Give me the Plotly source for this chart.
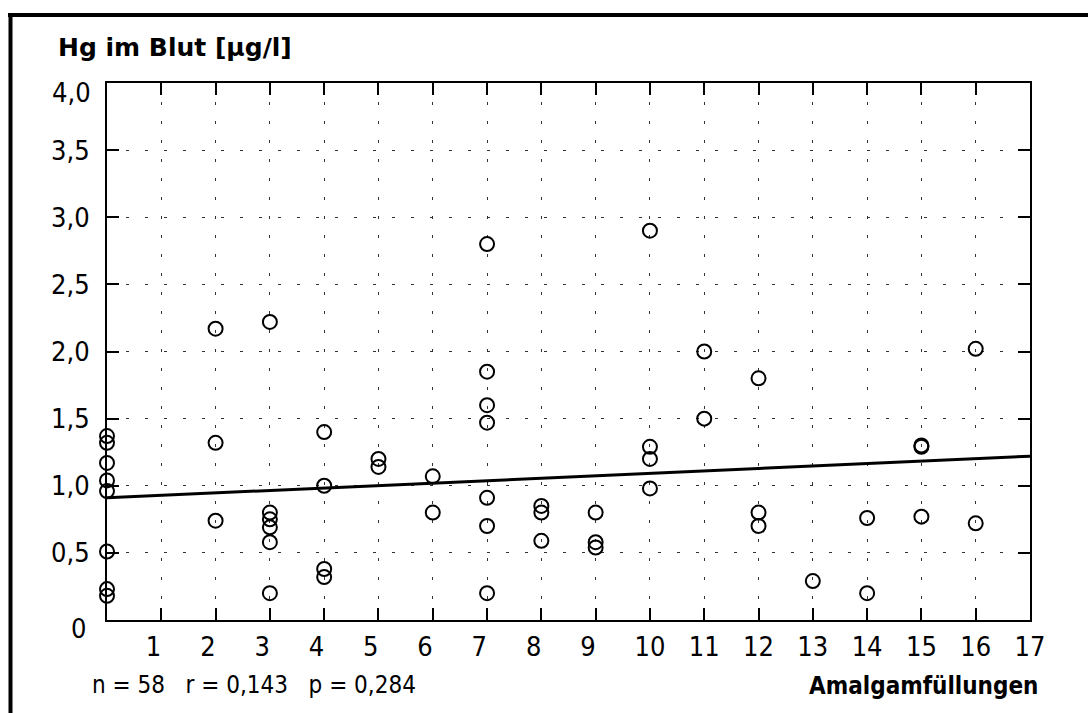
import plotly.graph_objects as go

# Data
amalgam = [0, 0, 0, 0, 0, 0, 0, 0,
           2, 2, 2,
           3, 3, 3, 3, 3, 3,
           4, 4, 4, 4,
           5, 5,
           6, 6,
           7, 7, 7, 7, 7, 7, 7,
           8, 8, 8,
           9, 9, 9,
           10, 10, 10, 10,
           11, 11,
           12, 12, 12,
           13,
           14, 14,
           15, 15, 15,
           16, 16]
hg_blood = [1.37, 1.32, 1.17, 1.04, 0.96, 0.51, 0.23, 0.18,
            2.17, 1.32, 0.74,
            2.22, 0.80, 0.75, 0.69, 0.58, 0.20,
            1.40, 1.00, 0.38, 0.32,
            1.20, 1.14,
            1.07, 0.80,
            2.80, 1.85, 1.60, 1.47, 0.91, 0.70, 0.20,
            0.85, 0.80, 0.59,
            0.80, 0.58, 0.54,
            2.90, 1.29, 1.20, 0.98,
            2.00, 1.50,
            1.80, 0.80, 0.70,
            0.29,
            0.76, 0.20,
            1.30, 1.29, 0.77,
            2.02, 0.72]
trend_x = [0, 17]
trend_y = [0.91, 1.22]

FS = "\u2007"  # figure space: single-digit labels sit slightly left, as in the reference
x_tickvals = list(range(0, 18))
x_ticktext = [""] + [str(i) + (FS if i < 10 else "") for i in range(1, 18)]
y_tickvals = [0, 0.5, 1.0, 1.5, 2.0, 2.5, 3.0, 3.5, 4.0]
y_ticktext = ["", "0,5", "1,0", "1,5", "2,0", "2,5", "3,0", "3,5", ""]

NARROW = "DejaVu Sans Condensed, Liberation Sans, sans-serif"
TICK_SIZE = 27

fig = go.Figure()
fig.add_trace(go.Scatter(x=trend_x, y=trend_y, mode="lines",
                         line=dict(color="black", width=3),
                         hoverinfo="skip", showlegend=False))
fig.add_trace(go.Scatter(x=amalgam, y=hg_blood, mode="markers",
                         marker=dict(symbol="circle-open", size=14,
                                     color="black", line=dict(width=2, color="black")),
                         cliponaxis=False, showlegend=False))

axis_common = dict(showline=True, linecolor="black", linewidth=2, mirror="allticks",
                   ticks="inside", ticklen=12, tickwidth=1.5, tickcolor="black",
                   showgrid=True, gridcolor="#333333", gridwidth=1.2,
                   griddash="3px,16px", zeroline=False,
                   tickfont=dict(family=NARROW, size=TICK_SIZE, color="black"))

fig.update_xaxes(range=[0, 17], tickmode="array", tickvals=x_tickvals, ticktext=x_ticktext,
                 ticklabelstandoff=2, **axis_common)
fig.update_yaxes(range=[0, 4], tickmode="array", tickvals=y_tickvals, ticktext=y_ticktext,
                 ticklabelstandoff=10, **axis_common)

L, R, T, B = 107, 58, 83, 93
W, H = 1088, 713
pw, ph = W - L - R, H - T - B

def px(x):
    return (x - L) / pw

def py(y):
    return (H - B - y) / ph

annotations = [
    dict(text="<b>Hg im Blut [µg/l]</b>", x=px(56), y=py(47), xref="paper", yref="paper",
         xanchor="left", yanchor="middle", showarrow=False,
         font=dict(family="DejaVu Sans, sans-serif", size=25, color="black")),
    dict(text="4,0", x=px(93), y=py(93), xref="paper", yref="paper",
         xanchor="right", yanchor="middle", showarrow=False,
         font=dict(family=NARROW, size=TICK_SIZE, color="black")),
    dict(text="0", x=px(88), y=py(628), xref="paper", yref="paper",
         xanchor="right", yanchor="middle", showarrow=False,
         font=dict(family=NARROW, size=TICK_SIZE, color="black")),
    dict(text="n = 58   r = 0,143   p = 0,284", x=px(90), y=py(685), xref="paper", yref="paper",
         xanchor="left", yanchor="middle", showarrow=False,
         font=dict(family=NARROW, size=24, color="black")),
    dict(text="<b>Amalgamfüllungen</b>", x=px(1040), y=py(686), xref="paper", yref="paper",
         xanchor="right", yanchor="middle", showarrow=False,
         font=dict(family=NARROW, size=24, color="black")),
]

shapes = [
    dict(type="line", xref="paper", yref="paper", x0=px(8), x1=px(1088), y0=py(15), y1=py(15),
         line=dict(color="black", width=4)),
    dict(type="line", xref="paper", yref="paper", x0=px(10.5), x1=px(10.5), y0=py(13), y1=py(713),
         line=dict(color="black", width=4)),
]

fig.update_layout(width=W, height=H, margin=dict(l=L, r=R, t=T, b=B),
                  paper_bgcolor="white", plot_bgcolor="white",
                  annotations=annotations, shapes=shapes, showlegend=False)

fig.write_html("out.html")
